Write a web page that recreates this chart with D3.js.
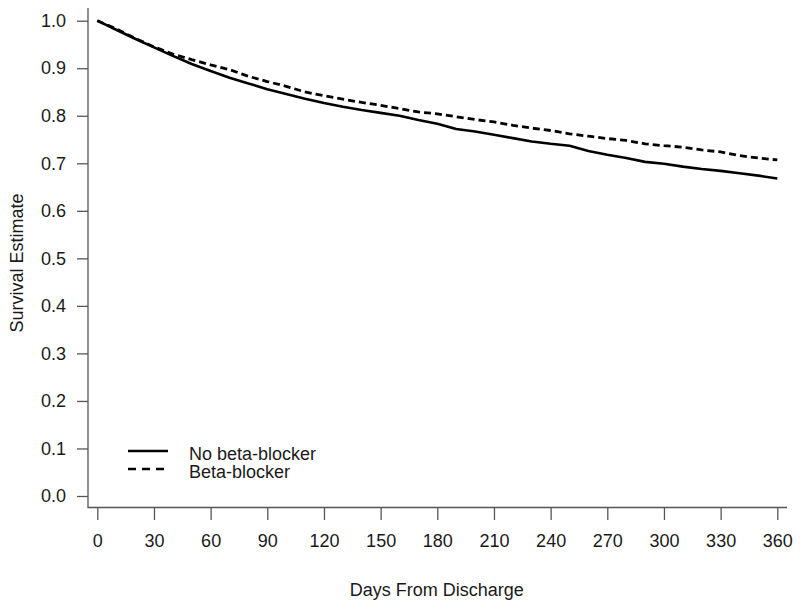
<!DOCTYPE html>
<html>
<head>
<meta charset="utf-8">
<script src="https://cdn.jsdelivr.net/npm/d3@7"></script>
<style>
  html, body { margin: 0; padding: 0; background: #fff; }
  svg { display: block; font-family: "Liberation Sans", Arial, sans-serif; }
</style>
</head>
<body>
<svg id="chart" width="800" height="608"></svg>
<script>
// ---- data ----
const days = [0,10,20,30,40,50,60,70,80,90,100,110,120,130,140,150,160,170,180,190,200,210,220,230,240,250,260,270,280,290,300,310,320,330,340,350,360];
const noBetaBlocker = [1.000,0.981,0.962,0.944,0.926,0.909,0.894,0.880,0.868,0.856,0.846,0.836,0.827,0.819,0.812,0.806,0.800,0.791,0.783,0.772,0.767,0.760,0.753,0.746,0.741,0.737,0.726,0.718,0.711,0.703,0.699,0.693,0.688,0.684,0.679,0.674,0.668];
const betaBlocker   = [1.000,0.983,0.963,0.945,0.930,0.918,0.907,0.897,0.883,0.872,0.862,0.850,0.842,0.835,0.828,0.822,0.815,0.808,0.804,0.798,0.792,0.787,0.780,0.774,0.769,0.762,0.757,0.752,0.748,0.741,0.737,0.734,0.728,0.724,0.716,0.711,0.707];
const xTicks = [0,30,60,90,120,150,180,210,240,270,300,330,360];
const yTicks = [0.0,0.1,0.2,0.3,0.4,0.5,0.6,0.7,0.8,0.9,1.0];
const seriesNames = ["No beta-blocker", "Beta-blocker"];
const xTitle = "Days From Discharge";
const yTitle = "Survival Estimate";

// ---- layout ----
const svg = d3.select("#chart");
const x = d3.scaleLinear().domain([0, 360]).range([97.3, 777.3]);
const y = d3.scaleLinear().domain([0, 1]).range([496, 20.7]);
const axisColor = "#555";
const textColor = "#1a1a1a";
const fontSize = 18;

// L-shaped frame
svg.append("path")
  .attr("d", `M88,8 L88,507.5 L787,507.5`)
  .attr("fill", "none").attr("stroke", axisColor).attr("stroke-width", 1.3);

// Y axis
const yAxis = d3.axisLeft(y).tickValues(yTicks).tickFormat(d3.format(".1f"))
  .tickSize(11).tickPadding(11);
const gy = svg.append("g").attr("transform", "translate(88,0)").call(yAxis);
gy.select(".domain").remove();
gy.selectAll(".tick line").attr("stroke", axisColor).attr("stroke-width", 1.3);
gy.selectAll(".tick text").attr("fill", textColor).style("font-size", fontSize + "px")
  .style("font-family", "'Liberation Sans', Arial, sans-serif");

// X axis
const xAxis = d3.axisBottom(x).tickValues(xTicks).tickFormat(d3.format("d"))
  .tickSize(12).tickPadding(14);
const gx = svg.append("g").attr("transform", "translate(0,508)").call(xAxis);
gx.select(".domain").remove();
gx.selectAll(".tick line").attr("stroke", axisColor).attr("stroke-width", 1.3);
gx.selectAll(".tick text").attr("fill", textColor).style("font-size", fontSize + "px")
  .style("font-family", "'Liberation Sans', Arial, sans-serif");

// Titles
svg.append("text").attr("x", 436.7).attr("y", 596).attr("text-anchor", "middle")
  .attr("fill", textColor).style("font-size", fontSize + "px").text(xTitle);
svg.append("text").attr("transform", "translate(23,263) rotate(-90)").attr("text-anchor", "middle")
  .attr("fill", textColor).style("font-size", fontSize + "px").text(yTitle);

// Lines
const line = d3.line().x((d, i) => x(days[i])).y(d => y(d)).curve(d3.curveLinear);
svg.append("path").datum(noBetaBlocker).attr("d", line)
  .attr("fill", "none").attr("stroke", "#000").attr("stroke-width", 2.6)
  .attr("stroke-linejoin", "round");
svg.append("path").datum(betaBlocker).attr("d", line)
  .attr("fill", "none").attr("stroke", "#000").attr("stroke-width", 2.8)
  .attr("stroke-dasharray", "7,4");

// Legend
const legend = svg.append("g");
const legendItems = [
  { name: seriesNames[0], dash: null, yy: 451, ty: 459 },
  { name: seriesNames[1], dash: "8,6", yy: 469, ty: 477 }
];
legendItems.forEach(it => {
  legend.append("line").attr("x1", 128).attr("x2", 168).attr("y1", it.yy).attr("y2", it.yy)
    .attr("stroke", "#000").attr("stroke-width", 2.6)
    .attr("stroke-dasharray", it.dash);
  legend.append("text").attr("x", 189).attr("y", it.ty + 1)
    .attr("fill", textColor).style("font-size", fontSize + "px").text(it.name);
});
</script>
</body>
</html>
